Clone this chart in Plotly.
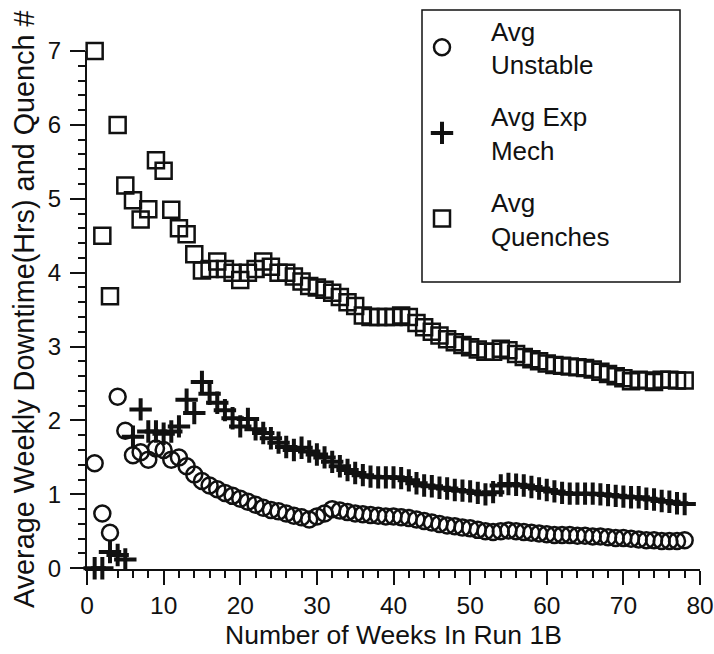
import plotly.graph_objects as go

weeks = list(range(1, 79))

avg_unstable = [1.42, 0.74, 0.48, 2.32, 1.86, 1.53, 1.57, 1.47, 1.62, 1.60,
                1.47, 1.50, 1.38, 1.27, 1.18, 1.12, 1.07, 1.02, 0.98, 0.94,
                0.90, 0.86, 0.82, 0.79, 0.77, 0.74, 0.71, 0.69, 0.66, 0.70,
                0.74, 0.80, 0.78, 0.76, 0.74, 0.73, 0.72, 0.71, 0.70, 0.70,
                0.69, 0.68, 0.66, 0.64, 0.62, 0.60, 0.58, 0.57, 0.55, 0.54,
                0.52, 0.50, 0.49, 0.50, 0.51, 0.50, 0.49, 0.48, 0.47, 0.46,
                0.45, 0.45, 0.45, 0.44, 0.44, 0.43, 0.43, 0.42, 0.41, 0.41,
                0.40, 0.39, 0.38, 0.38, 0.37, 0.37, 0.37, 0.38]

avg_exp_mech = [0.00, 0.00, 0.22, 0.18, 0.12, 1.78, 2.15, 1.85, 1.85, 1.82,
                1.85, 1.92, 2.28, 2.10, 2.52, 2.36, 2.24, 2.14, 2.03, 1.92,
                2.02, 1.88, 1.83, 1.76, 1.70, 1.64, 1.60, 1.63, 1.58, 1.54,
                1.50, 1.44, 1.38, 1.33, 1.29, 1.26, 1.24, 1.23, 1.23, 1.23,
                1.22, 1.19, 1.15, 1.12, 1.11, 1.09, 1.08, 1.06, 1.05, 1.04,
                1.02, 1.00, 1.03, 1.12, 1.14, 1.13, 1.12, 1.10, 1.08, 1.06,
                1.04, 1.02, 1.01, 1.01, 1.01, 1.01, 1.00, 0.99, 0.98, 0.97,
                0.96, 0.96, 0.94, 0.93, 0.91, 0.90, 0.88, 0.87]

avg_quenches = [7.00, 4.50, 3.68, 6.00, 5.18, 4.98, 4.72, 4.86, 5.52, 5.38,
                4.85, 4.60, 4.52, 4.25, 4.03, 4.05, 4.15, 4.05, 4.00, 3.90,
                4.00, 4.05, 4.15, 4.08, 4.00, 4.00, 3.95, 3.88, 3.82, 3.80,
                3.77, 3.73, 3.67, 3.60, 3.55, 3.42, 3.40, 3.40, 3.40, 3.40,
                3.42, 3.40, 3.32, 3.26, 3.20, 3.15, 3.10, 3.06, 3.02, 2.99,
                2.96, 2.93, 2.93, 2.97, 2.95, 2.90, 2.86, 2.83, 2.80, 2.77,
                2.75, 2.74, 2.73, 2.72, 2.71, 2.69, 2.66, 2.63, 2.60, 2.57,
                2.53, 2.55, 2.54, 2.52, 2.55, 2.55, 2.54, 2.54]

x_ticks = [0, 10, 20, 30, 40, 50, 60, 70, 80]
y_ticks = [0, 1, 2, 3, 4, 5, 6, 7]

FONT = "Liberation Sans, Arial, sans-serif"
INK = "#111111"
PAD = "&nbsp;" * 4


def legend_name(l1, l2):
    return PAD + l1 + "<br>" + PAD + l2


fig = go.Figure()
fig.add_trace(go.Scatter(
    x=weeks, y=avg_unstable, mode="markers", name=legend_name("Avg", "Unstable"),
    legendgroup="a", cliponaxis=False,
    marker=dict(symbol="circle-open", size=16, color=INK, line=dict(width=2.5, color=INK)),
))
fig.add_trace(go.Scatter(
    x=weeks, y=avg_exp_mech, mode="markers", name=legend_name("Avg Exp", "Mech"),
    legendgroup="b", cliponaxis=False,
    marker=dict(symbol="cross-thin-open", size=16, color=INK, line=dict(width=4, color=INK)),
))
fig.add_trace(go.Scatter(
    x=weeks, y=avg_quenches, mode="markers", name=legend_name("Avg", "Quenches"),
    legendgroup="c", cliponaxis=False,
    marker=dict(symbol="square-open", size=16, color=INK, line=dict(width=2.5, color=INK)),
))

# body margin is removed by the post script, so figure pixels = window pixels
W, H = 714, 654
PLOT_L, PLOT_R, PLOT_T, PLOT_B = 87, 700, 51, 569
L, R, T, B = PLOT_L, W - PLOT_R, PLOT_T, H - PLOT_B
pw = W - L - R
ph = H - T - B


def px_x(p):
    return (p - PLOT_L) / pw


def px_y(p):
    return (PLOT_B - p) / ph


fig.update_layout(
    width=W, height=H,
    margin=dict(l=L, r=R, t=T, b=B, autoexpand=False),
    paper_bgcolor="white", plot_bgcolor="white",
    font=dict(family=FONT, size=20, color=INK),
    showlegend=True,
    legend=dict(
        xref="container", yref="container",
        x=422 / W, y=(H - 7) / H,
        xanchor="left", yanchor="top",
        borderwidth=0, bgcolor="rgba(255,255,255,0)",
        font=dict(family=FONT, size=26, color=INK),
        tracegroupgap=15, traceorder="grouped",
    ),
    shapes=[dict(
        type="rect", xref="paper", yref="paper",
        x0=px_x(422), x1=px_x(680), y0=px_y(282), y1=px_y(10),
        line=dict(color=INK, width=1.5), fillcolor="rgba(0,0,0,0)",
    )],
    xaxis=dict(
        range=[0, 80], tickvals=x_ticks, ticktext=[str(v) for v in x_ticks],
        showgrid=False, zeroline=False,
        showline=True, linecolor=INK, linewidth=2,
        ticks="outside", ticklen=14, tickwidth=2, tickcolor=INK,
        minor=dict(dtick=2, ticks="outside", ticklen=7, tickwidth=2, tickcolor=INK),
        tickfont=dict(family=FONT, size=24.5, color=INK),
        ticklabelstandoff=0,
    ),
    yaxis=dict(
        range=[-0.01, 7.0], tickvals=y_ticks, ticktext=[str(v) for v in y_ticks],
        showgrid=False, zeroline=False,
        showline=True, linecolor=INK, linewidth=2,
        ticks="outside", ticklen=15, tickwidth=2, tickcolor=INK,
        minor=dict(dtick=0.2, ticks="outside", ticklen=7, tickwidth=2, tickcolor=INK),
        tickfont=dict(family=FONT, size=24, color=INK),
        ticklabelstandoff=4,
    ),
    annotations=[
        dict(
            text="Average Weekly Downtime(Hrs) and Quench #",
            textangle=-90, xref="paper", yref="paper",
            x=0, y=px_y(309), xanchor="center", yanchor="middle",
            xshift=-63, showarrow=False,
            font=dict(family=FONT, size=28.8, color=INK),
        ),
        dict(
            text="Number of Weeks In Run 1B",
            xref="paper", yref="paper",
            x=px_x(394), y=px_y(635), xanchor="center", yanchor="middle",
            showarrow=False,
            font=dict(family=FONT, size=26.5, color=INK),
        ),
    ],
)

fig.write_html(
    "out.html",
    config={"displayModeBar": False},
    post_script="document.body.style.margin='0';document.body.style.overflow='hidden';",
)
